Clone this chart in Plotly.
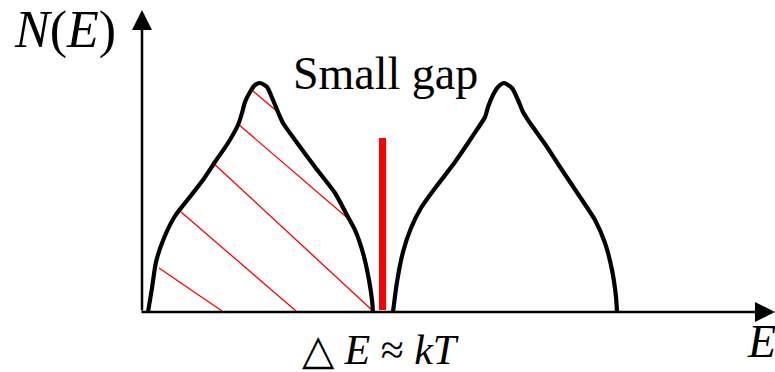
import plotly.graph_objects as go

# Density of states N(E): left (filled) band and right (empty) band
left_E = [6, 10, 14, 22, 33, 47, 61, 73, 86, 96, 100, 103, 108, 113, 118, 125, 131,
          136, 141, 153, 173, 193, 206, 213, 221, 227, 230, 231]
left_N = [0, 24, 50, 74, 96, 114, 132, 150, 169, 187, 199, 210, 220, 227, 229, 225, 212,
          200, 189, 172, 145, 119, 95, 82, 59, 32, 12, 0]

right_E = [251, 255, 261, 269, 279, 294, 313, 330, 343, 346, 351, 356, 362, 370, 376, 381,
           388, 403, 418, 438, 453, 463, 470, 474, 475]
right_N = [0, 30, 60, 84, 104, 125, 150, 175, 195, 205, 217, 225, 229, 224, 212, 200,
           189, 168, 145, 115, 92, 69, 42, 15, 0]

# small gap marker
gap_E = [240.5, 240.5]
gap_N = [2, 174]

# hatch lines (start E, start N, end E, end N)
hatch_E0 = [111, 96, 70, 39, 17]
hatch_N0 = [221, 188, 150, 100, 44]
hatch_E1 = [137, 209, 231, 154, 80]
hatch_N1 = [199, 91, 1, 1, 1]

fig = go.Figure()

for e0, n0, e1, n1 in zip(hatch_E0, hatch_N0, hatch_E1, hatch_N1):
    fig.add_trace(go.Scatter(x=[e0, e1], y=[n0, n1], mode="lines",
                             line=dict(color="#ff0000", width=1.3),
                             hoverinfo="skip", showlegend=False))

fig.add_trace(go.Scatter(x=left_E, y=left_N, mode="lines",
                         line=dict(color="black", width=4.2, shape="spline", smoothing=0.6),
                         showlegend=False))
fig.add_trace(go.Scatter(x=right_E, y=right_N, mode="lines",
                         line=dict(color="black", width=4.2, shape="spline", smoothing=0.6),
                         showlegend=False))
fig.add_trace(go.Scatter(x=gap_E, y=gap_N, mode="lines",
                         line=dict(color="#ff0000", width=7),
                         showlegend=False))

# axes with arrows
fig.add_annotation(x=0, y=302, ax=0, ay=0, xref="x", yref="y", axref="x", ayref="y",
                   showarrow=True, arrowhead=2, arrowsize=1.6, arrowwidth=2.5,
                   arrowcolor="black", text="")
fig.add_annotation(x=633, y=0, ax=-2, ay=0, xref="x", yref="y", axref="x", ayref="y",
                   showarrow=True, arrowhead=2, arrowsize=1.6, arrowwidth=2.5,
                   arrowcolor="black", text="")

serif = "Liberation Serif"
fig.add_annotation(x=-77, y=282, xref="x", yref="y", showarrow=False,
                   text="<i>N</i>(<i>E</i>)", font=dict(family=serif, size=52, color="black"))
fig.add_annotation(x=243, y=239, xref="x", yref="y", showarrow=False,
                   text="Small gap", font=dict(family=serif, size=46, color="black"))
fig.add_annotation(x=238, y=-38, xref="x", yref="y", showarrow=False,
                   text="△ <i>E</i> ≈ <i>kT</i>", font=dict(family=serif, size=42, color="black"))
fig.add_annotation(x=619, y=-29, xref="x", yref="y", showarrow=False,
                   text="<i>E</i>", font=dict(family=serif, size=46, color="black"))

fig.update_layout(
    width=775, height=372,
    margin=dict(l=0, r=0, t=0, b=0),
    paper_bgcolor="white", plot_bgcolor="white",
    xaxis=dict(range=[-142, 633], visible=False, fixedrange=True),
    yaxis=dict(range=[-60, 312], visible=False, fixedrange=True),
)

fig.write_html("out.html", config={"displayModeBar": False},
               post_script="document.body.style.margin='0';document.body.style.overflow='hidden';")
